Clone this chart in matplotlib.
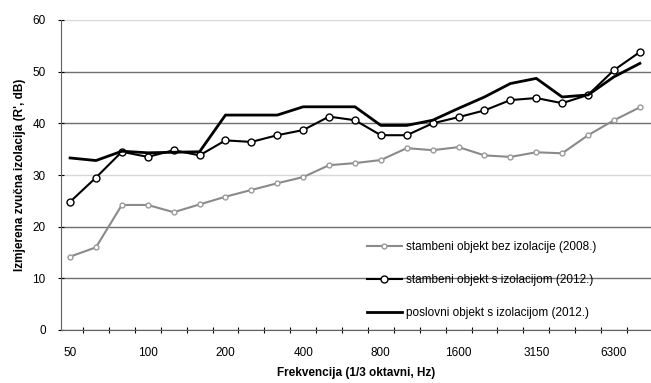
import matplotlib
matplotlib.use('Agg')
import matplotlib.pyplot as plt

plt.rcParams['font.family'] = ['Liberation Sans', 'DejaVu Sans']

# 1/3 oktavni pojasevi
freqs = ['50', '63', '80', '100', '125', '160', '200', '250', '315', '400', '500', '630',
         '800', '1000', '1250', '1600', '2000', '2500', '3150', '4000', '5000', '6300', '8000']

# izmjerene vrijednosti (dB)
serija_2008 = [14.2, 16.0, 24.2, 24.2, 22.8, 24.3, 25.8, 27.1, 28.4, 29.6, 31.9, 32.3,
               32.9, 35.2, 34.8, 35.4, 33.8, 33.5, 34.4, 34.2, 37.7, 40.6, 43.1]
serija_2012a = [24.8, 29.5, 34.5, 33.5, 34.8, 33.8, 36.7, 36.4, 37.7, 38.7, 41.3, 40.6,
                37.7, 37.7, 40.0, 41.2, 42.5, 44.5, 44.9, 43.9, 45.5, 50.3, 53.8]
serija_2012b = [33.3, 32.8, 34.6, 34.3, 34.4, 34.5, 41.6, 41.6, 41.6, 43.2, 43.2, 43.2,
                39.6, 39.6, 40.6, 42.9, 45.1, 47.7, 48.7, 45.1, 45.5, 49.0, 51.6]

labels = ['stambeni objekt bez izolacije (2008.)',
          'stambeni objekt s izolacijom (2012.)',
          'poslovni objekt s izolacijom (2012.)']

fig = plt.figure(figsize=(6.51, 3.83), dpi=100)
ax = fig.add_axes([61 / 651, 53 / 383, 590 / 651, 310 / 383])

x = list(range(len(freqs)))
ax.plot(x, serija_2008, color='#8a8a8a', lw=1.5, marker='o', ms=3.5,
        mfc='white', mec='#9a9a9a', label=labels[0], zorder=3)
ax.plot(x, serija_2012a, color='black', lw=1.5, marker='o', ms=5,
        mfc='white', mec='black', label=labels[1], zorder=4)
ax.plot(x, serija_2012b, color='black', lw=2.0, label=labels[2], zorder=4)

ax.set_xlim(-0.35, 22.43)
ax.set_ylim(0, 60)
ax.set_yticks(range(0, 61, 10))

# svaka treca frekvencija kao oznaka
ax.set_xticks(x[::3])
ax.set_xticklabels(freqs[::3])
ax.set_xticks([i + 0.5 for i in x[:-1]], minor=True)
ax.tick_params(axis='x', which='major', length=0, labelsize=8.5, pad=12)
ax.tick_params(axis='x', which='minor', length=4, direction='inout', width=0.8)
ax.tick_params(axis='y', length=4, direction='inout', labelsize=8.5, width=0.8, pad=9)

# horizontalne linije mreze
ax.yaxis.grid(True, color='#707070', lw=1.0)
for val, gl in zip(range(0, 61, 10), ax.get_ygridlines()):
    if val in (30, 60):
        gl.set_color('#d8d8d8')
ax.set_axisbelow(True)

for side in ['top', 'right']:
    ax.spines[side].set_visible(False)
ax.spines['left'].set_color('#606060')
ax.spines['bottom'].set_color('#606060')

ax.set_xlabel('Frekvencija (1/3 oktavni, Hz)', fontsize=8.5, fontweight='bold', labelpad=6)
ax.set_ylabel("Izmjerena zvučna izolacija (R', dB)", fontsize=8.5, fontweight='bold', labelpad=5)

ax.legend(loc='upper left', bbox_to_anchor=(0.50, 0.32), frameon=False, fontsize=8.5,
          handlelength=3.0, labelspacing=1.75, handletextpad=0.3)

fig.savefig('out.png', dpi=100)
